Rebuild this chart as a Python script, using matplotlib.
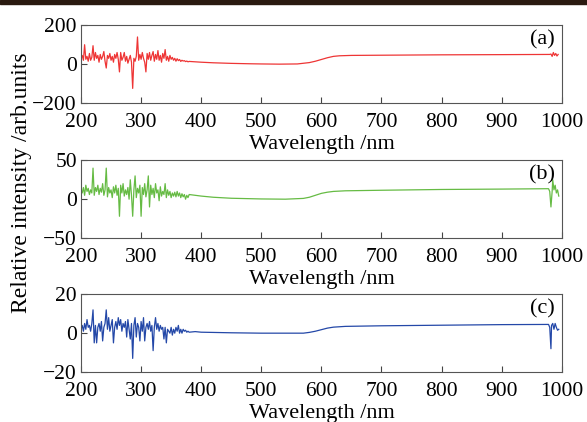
import matplotlib
matplotlib.use("Agg")
import matplotlib.pyplot as plt
from matplotlib.patches import Rectangle

plt.rcParams['font.family'] = ['Liberation Serif', 'DejaVu Serif']

# noisy part, 200-380 nm in 2 nm steps
wl_noise = list(range(200, 382, 2))

a_noise = [30, 45, 20, 100, 25, 40, 15, 55, 20, 35, 95, 20, 60, 30, 45, 10, 50, 25, 40, 65,
           15, -20, 45, 30, 55, 20, 40, 10, 50, 30, 60, 25, -40, 60, 20, 35, 60, 15, 40, 5,
           25, 45, 10, -125, 30, 15, 40, 140, 20, 50, 25, 60, 30, 10, -40, 55, 25, 60, 20, 45,
           65, 15, 50, 25, 70, 20, 45, 10, 55, 30, 75, 20, 40, 15, 45, 25, 35, 20, 30, 15,
           28, 18, 24, 14, 20, 16, 18, 13, 16, 12, 14]
b_noise = [12, 8, 15, 5, 18, 10, 14, 6, 12, 8, 40, 5, 15, 10, 18, 6, 14, 9, 20, 5,
           12, 40, 3, 15, 8, 12, 2, 16, 8, 18, 5, 14, -22, 18, 8, 20, 4, 12, 6, 15,
           0, 25, 5, -22, 12, 30, 2, 14, 8, 18, -22, 15, 6, 20, 3, 12, 30, -10, 18, 6,
           14, 2, 20, 8, 12, -2, 16, 4, 10, 6, 20, 2, 12, 5, 10, 2, 8, 4, 9, 3,
           10, 4, 8, 2, 7, 3, 6, 0, 5, 2, 6]
c_noise = [2, 4, 1, 5, 2, 7, 3, 4, 1, 5, 12, -5, 4, -5, 3, 5, 1, 6, -4, 3,
           5, 12, 2, 8, 1, 4, 7, -5, 3, 6, 2, 8, 4, 7, 1, 5, 3, 6, -2, 7,
           2, -3, 5, -13, 4, 8, -2, 5, 3, -4, 6, 1, 8, -4, 3, 5, 2, 6, 1, 4,
           -9, 3, 8, 2, 5, 1, 4, 2, 3, -3, 3, -5, 2, 1, 0, 3, -1, 2, 0, 3,
           1, 4, 0, 2, 0, 2, 1, 1.5, 0.5, 1, 0.5]

# smooth part and detector edge
a_wl_tail = [390, 400, 420, 450, 480, 500, 530, 560, 580, 590, 600, 610, 620, 630, 650, 700, 800,
             900, 980, 982, 984, 986, 988, 990, 992, 994]
a_tail = [12, 10, 7, 4, 2, 1, 0, 1, 8, 15, 24, 33, 40, 43, 45, 46, 48,
          49, 50, 52, 40, 60, 45, 55, 42, 50]
b_wl_tail = [390, 400, 420, 450, 500, 540, 570, 580, 590, 600, 610, 620, 640, 700, 800,
             900, 978, 980, 982, 984, 985, 987, 989, 991, 993, 995]
b_tail = [5, 4, 2.5, 1.2, 0.3, 0, 1, 2.5, 5, 7.5, 9, 10, 10.8, 11.5, 12.5,
          13, 13.5, 10, -10, 10, 25, 12, 18, 8, 12, 4]
c_wl_tail = [390, 400, 450, 500, 570, 580, 590, 600, 610, 620, 640, 700, 800,
             900, 978, 980, 982, 983, 985, 987, 989, 991, 993, 995]
c_tail = [0.8, 0.5, 0.2, 0, 0, 0.4, 1, 1.8, 2.6, 3.1, 3.5, 3.8, 4.1,
          4.4, 4.5, 3, -8, 4, 5, 2, 5, 3, 1.5, 2]

panels = [
    ("(a)", a_noise, a_wl_tail, a_tail, "#ee3535", (-200, 200), [-200, 0, 200]),
    ("(b)", b_noise, b_wl_tail, b_tail, "#66bb44", (-50, 50), [-50, 0, 50]),
    ("(c)", c_noise, c_wl_tail, c_tail, "#2448a8", (-20, 20), [-20, 0, 20]),
]
bottoms = [0.756, 0.436, 0.1185]

fig = plt.figure(figsize=(5.87, 4.22), dpi=100)
fig.patches.append(Rectangle((0, 0.99), 1, 0.01, transform=fig.transFigure,
                             color="#2a1a10", zorder=0))

for (tag, noise, wl_t, tail, col, ylim, yt), b in zip(panels, bottoms):
    ax = fig.add_axes([0.138, b, 0.819, 0.184])
    ax.plot(wl_noise + wl_t, noise + tail, color=col, lw=0.9)
    ax.set_xlim(200, 1000)
    ax.set_ylim(*ylim)
    ax.set_yticks(yt)
    ax.set_xticks(range(200, 1001, 100))
    ax.tick_params(direction="in", length=4, labelsize=15.5, color="#444444")
    ax.tick_params(axis="x", pad=7.5)
    ax.tick_params(axis="y", pad=3)
    for s in ax.spines.values():
        s.set_color("#555555")
    ax.set_xlabel("Wavelength /nm", fontsize=16, labelpad=2)
    ax.text(0.985, 0.94, tag, transform=ax.transAxes, ha="right", va="top", fontsize=16)

fig.text(0.037, 0.566, "Relative intensity /arb.units", rotation=90, ha="center",
         va="center", fontsize=17)

fig.savefig("out.png", dpi=100)
